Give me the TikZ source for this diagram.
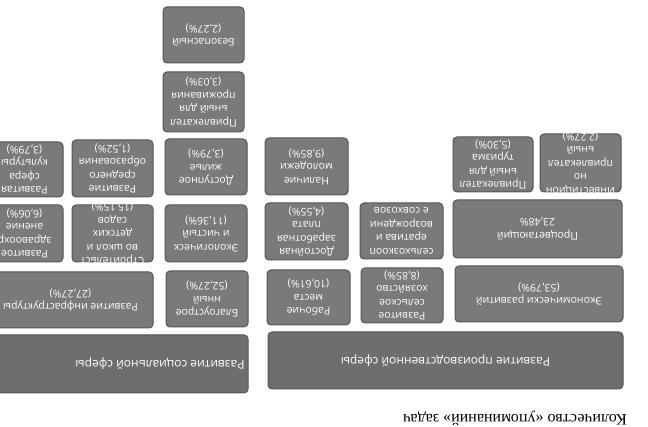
\documentclass[tikz,border=0pt]{standalone}
\usepackage{fontspec}
\setmainfont{Open Sans}
\newfontfamily\capfont{Liberation Serif}
\definecolor{boxfill}{HTML}{7A7A7A}
\definecolor{boxline}{HTML}{555555}
\definecolor{mainfill}{HTML}{6E6E6E}
\newcommand{\bx}[7][box]{%
  \node[#1, minimum width={((#5)-(#3))*1pt}, minimum height={((#6)-(#4))*1pt}] (#2) at ({((#3)+(#5))/2},{((#4)+(#6))/2}) {};
  \node[#1text] (#2-t) at (#2.center) {#7};}
\begin{document}
\begin{tikzpicture}[x=1pt,y=-1pt,
  box/.style={draw=boxline, fill=boxfill, line width=1pt, rounded corners=4pt, inner sep=0pt},
  mainbox/.style={box, fill=mainfill},
  boxtext/.style={text=white, rotate=180, align=center, inner sep=0pt, font=\fontsize{10.5}{13.5}\selectfont},
  mainboxtext/.style={boxtext, font=\fontsize{12}{14}\selectfont},
  captext/.style={text=black, rotate=180, inner sep=0pt, font=\capfont\fontsize{16}{18}\selectfont}]
\useasboundingbox (0,0) rectangle (648,427);
\clip (0,0) rectangle (648,427);
\fill[white] (0,0) rectangle (648,427);

% main boxes
\node[mainbox, minimum width=270pt, minimum height=58pt] (S0) at (113,364) {};
\node[mainboxtext] (S0-t) at (160,364) {Развитие социальной сферы};
\bx[mainbox]{P0}{268}{332}{623}{389}{Развитие производственной сферы}

% social sphere
\bx{S1}{-12}{272}{153}{328}{Развитие инфраструктуры\\(27,27\%)}
\bx{S2}{166}{271}{248}{327}{Благоустрое\\нный\\(52,27\%)}
\bx{S3}{-14}{205}{63}{262}{Развитое\\здравоохр\\анение\\(6,06\%)}
\bx{S4}{72}{205}{153}{262}{Строительст\\во школ и\\детских\\садов\\(15,15\%)}
\bx{S5}{165}{205}{247}{262}{Экологическ\\и чистый\\(11,36\%)}
\bx{S6}{-14}{142}{63}{197}{Развитая\\сфера\\культуры\\(3,79\%)}
\bx{S7}{72}{140}{153}{197}{Развитие\\среднего\\образования\\(1,52\%)}
\bx{S8}{165}{139}{247}{195}{Доступное\\жилье\\(3,79\%)}
\bx{S9}{163}{72}{244}{132}{Привлекател\\ьный для\\проживания\\(3,03\%)}
\bx{S10}{163}{7}{244}{63}{Безопасный\\(2,27\%)}

% production sphere
\bx{P1}{267}{270}{350}{325}{Рабочие\\места\\(10,61\%)}
\bx{P2}{361}{268}{443}{323}{Развитое\\сельское\\хозяйство\\(8,85\%)}
\bx{P3}{455}{266}{623}{322}{Экономически развитий\\(53,79\%)}
\bx{P4}{265}{203}{348}{260}{Достойная\\заработная\\плата\\(4,55\%)}
\bx{P5}{360}{203}{443}{259}{сельхозкооп\\ератива и\\возрождени\\е совхозов}
\bx{P6}{453}{200}{622}{258}{Процветающий\\23,48\%}
\bx{P7}{265}{138}{348}{195}{Наличие\\молодежи\\(9,85\%)}
\bx{P8}{453}{137}{533}{192}{Привлекател\\ьный для\\туризма\\(5,30\%)}
\bx{P9}{540}{134}{621}{192}{Инвестицион\\но\\привлекател\\ьный\\(2,27\%)}

% caption
\node[captext] (cap) at (515,418) {Количество «упоминаний» задач};
\end{tikzpicture}
\end{document}
